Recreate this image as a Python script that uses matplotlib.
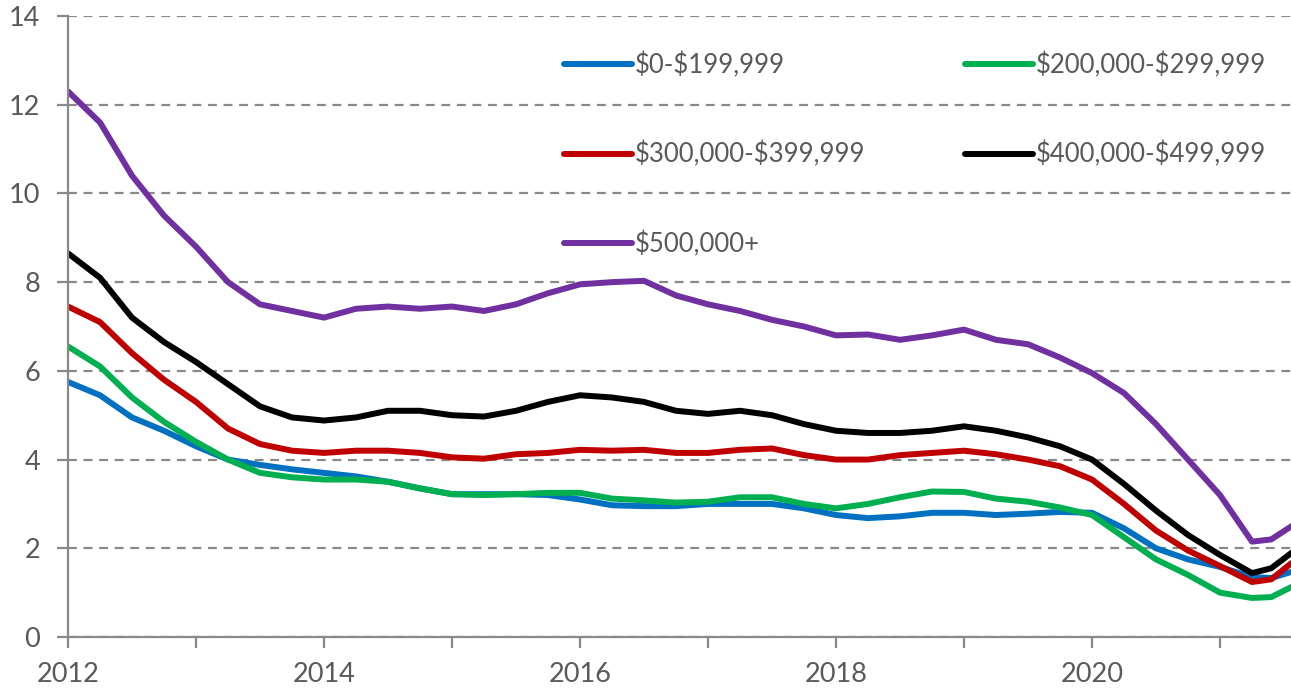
import numpy as np
import matplotlib.pyplot as plt
from matplotlib.ticker import MultipleLocator

plt.rcParams['font.family'] = ['Lato', 'DejaVu Sans']

# quarterly readings, last point is where the chart is cut off
years = [2012.0, 2012.25, 2012.5, 2012.75, 2013.0, 2013.25, 2013.5, 2013.75,
         2014.0, 2014.25, 2014.5, 2014.75, 2015.0, 2015.25, 2015.5, 2015.75,
         2016.0, 2016.25, 2016.5, 2016.75, 2017.0, 2017.25, 2017.5, 2017.75,
         2018.0, 2018.25, 2018.5, 2018.75, 2019.0, 2019.25, 2019.5, 2019.75,
         2020.0, 2020.25, 2020.5, 2020.75, 2021.0, 2021.25, 2021.4, 2021.56]

band_0_199 = [5.75, 5.45, 4.95, 4.65, 4.3, 4.0, 3.88, 3.78,
              3.7, 3.62, 3.5, 3.35, 3.22, 3.22, 3.22, 3.2,
              3.1, 2.97, 2.95, 2.95, 3.0, 3.0, 3.0, 2.9,
              2.75, 2.68, 2.72, 2.8, 2.8, 2.75, 2.78, 2.82,
              2.8, 2.45, 2.0, 1.75, 1.58, 1.35, 1.33, 1.47]
band_200_299 = [6.55, 6.1, 5.4, 4.85, 4.4, 4.0, 3.7, 3.6,
                3.55, 3.55, 3.5, 3.35, 3.22, 3.2, 3.22, 3.25,
                3.25, 3.12, 3.08, 3.03, 3.05, 3.15, 3.15, 3.0,
                2.9, 3.0, 3.15, 3.28, 3.27, 3.12, 3.05, 2.92,
                2.75, 2.25, 1.75, 1.4, 1.0, 0.88, 0.9, 1.13]
band_300_399 = [7.45, 7.1, 6.4, 5.8, 5.3, 4.7, 4.35, 4.2,
                4.15, 4.2, 4.2, 4.15, 4.05, 4.02, 4.12, 4.15,
                4.22, 4.2, 4.22, 4.15, 4.15, 4.22, 4.25, 4.1,
                4.0, 4.0, 4.1, 4.15, 4.2, 4.12, 4.0, 3.85,
                3.55, 3.0, 2.4, 1.95, 1.6, 1.24, 1.3, 1.67]
band_400_499 = [8.65, 8.1, 7.2, 6.65, 6.2, 5.7, 5.2, 4.95,
                4.88, 4.95, 5.1, 5.1, 5.0, 4.97, 5.1, 5.3,
                5.45, 5.4, 5.3, 5.1, 5.03, 5.1, 5.0, 4.8,
                4.65, 4.6, 4.6, 4.65, 4.75, 4.65, 4.5, 4.3,
                4.0, 3.45, 2.85, 2.3, 1.85, 1.44, 1.55, 1.9]
band_500_plus = [12.3, 11.6, 10.4, 9.5, 8.8, 8.0, 7.5, 7.35,
                 7.2, 7.4, 7.45, 7.4, 7.45, 7.35, 7.5, 7.75,
                 7.95, 8.0, 8.03, 7.7, 7.5, 7.35, 7.15, 7.0,
                 6.8, 6.82, 6.7, 6.8, 6.93, 6.7, 6.6, 6.3,
                 5.95, 5.5, 4.8, 4.0, 3.2, 2.15, 2.2, 2.5]

labels = ['$0-$199,999', '$200,000-$299,999', '$300,000-$399,999',
          '$400,000-$499,999', '$500,000+']
colors = ['#0070C0', '#00B050', '#C00000', '#000000', '#7030A0']
series = [band_0_199, band_200_299, band_300_399, band_400_499, band_500_plus]

fig = plt.figure(figsize=(12.91, 6.89), dpi=100)
ax = fig.add_axes([68 / 1291, 52 / 689, 1 - 68 / 1291, 621 / 689])

grey = '#898989'
txt = '#595959'
ax.yaxis.grid(True, color=grey, linestyle=(0, (4, 3)), linewidth=1.6)
ax.set_axisbelow(True)

for vals, lab, c in zip(series, labels, colors):
    ax.plot(years, vals, color=c, lw=4.3, label=lab.replace('$', r'\$'),
            solid_capstyle='round', solid_joinstyle='round')

ax.set_xlim(2012, 2012 + (1291 - 68) / 128)
ax.set_ylim(0, 14)
ax.xaxis.set_major_locator(MultipleLocator(2))
ax.xaxis.set_minor_locator(MultipleLocator(1))
ax.yaxis.set_major_locator(MultipleLocator(2))
ax.tick_params(axis='both', which='both', color=grey, width=1.6, length=8,
               labelsize=19.5, labelcolor=txt)
ax.tick_params(axis='x', pad=10)
ax.tick_params(axis='y', pad=12)

for s in ['top', 'right']:
    ax.spines[s].set_visible(False)
for s in ['left', 'bottom']:
    ax.spines[s].set_color(grey)
    ax.spines[s].set_linewidth(1.6)

h, l = ax.get_legend_handles_labels()
order = [0, 2, 4, 1, 3]
leg = fig.legend([h[i] for i in order], [l[i] for i in order],
                 loc='upper left', bbox_to_anchor=(564 / 1291, 1 - 52 / 689),
                 ncol=2, frameon=False, fontsize=18.5, labelcolor=txt,
                 handlelength=2.65, handletextpad=0.12, columnspacing=3.85,
                 labelspacing=2.46, borderpad=0, borderaxespad=0)

fig.savefig('out.png', dpi=100)
